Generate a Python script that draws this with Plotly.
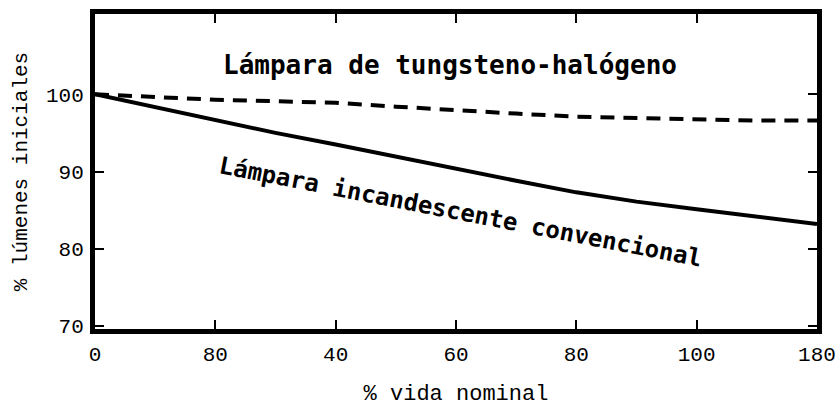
import plotly.graph_objects as go

# Data
vida = [0, 10, 20, 30, 40, 50, 60, 70, 80, 90, 100, 110, 120]
halogeno = [100, 99.6, 99.3, 99.1, 98.9, 98.4, 97.9, 97.5, 97.1, 96.9, 96.7, 96.6, 96.6]
convencional = [100, 98.3, 96.7, 95.0, 93.5, 91.9, 90.4, 88.8, 87.3, 86.1, 85.1, 84.2, 83.2]

x_tickvals = [0, 20, 40, 60, 80, 100, 120]
x_ticktext = ["0", "80", "40", "60", "80", "100", "180"]
y_tickvals = [70, 80, 90, 100]
y_ticktext = ["70", "80", "90", "100"]

label_halogeno = "Lámpara de tungsteno-halógeno"
label_convencional = "Lámpara incandescente convencional"
x_title = "% vida nominal"
y_title = "% lúmenes iniciales"

fig = go.Figure()
fig.add_trace(go.Scatter(x=vida, y=halogeno, mode="lines",
                         line=dict(color="black", width=4, dash="14px,9px"),
                         showlegend=False))
fig.add_trace(go.Scatter(x=vida, y=convencional, mode="lines",
                         line=dict(color="black", width=4),
                         showlegend=False))

fig.add_annotation(x=59, y=103.8, text=label_halogeno, showarrow=False,
                   font=dict(family="DejaVu Sans Mono", size=26, color="black", weight="bold"))
fig.add_annotation(x=60.7, y=84.7, text=label_convencional, showarrow=False, textangle=11,
                   font=dict(family="DejaVu Sans Mono", size=24, color="black", weight="bold"))

tick_font = dict(family="Liberation Mono", size=21, color="black")
fig.update_xaxes(range=[0, 120], tickvals=x_tickvals, ticktext=x_ticktext,
                 ticks="inside", ticklen=9, tickwidth=2, tickcolor="black",
                 showline=True, linewidth=5, linecolor="black", mirror="ticks",
                 showgrid=False, zeroline=False, tickfont=tick_font,
                 ticklabelstandoff=2,
                 title=dict(text=x_title, font=dict(family="Liberation Mono", size=22, color="black"),
                            standoff=24))
fig.update_yaxes(range=[69.6, 110.4], tickvals=y_tickvals, ticktext=y_ticktext,
                 ticks="inside", ticklen=9, tickwidth=2, tickcolor="black",
                 showline=True, linewidth=5, linecolor="black", mirror="ticks",
                 showgrid=False, zeroline=False, tickfont=tick_font,
                 ticklabelstandoff=2,
                 title=dict(text=y_title, font=dict(family="Liberation Mono", size=21, color="black"),
                            standoff=14))

fig.update_layout(width=838, height=407,
                  margin=dict(l=95, r=21, t=14, b=78, autoexpand=False),
                  plot_bgcolor="white", paper_bgcolor="white")

fig.write_html("out.html", config={"displayModeBar": False},
               post_script="document.body.style.margin='0';")
